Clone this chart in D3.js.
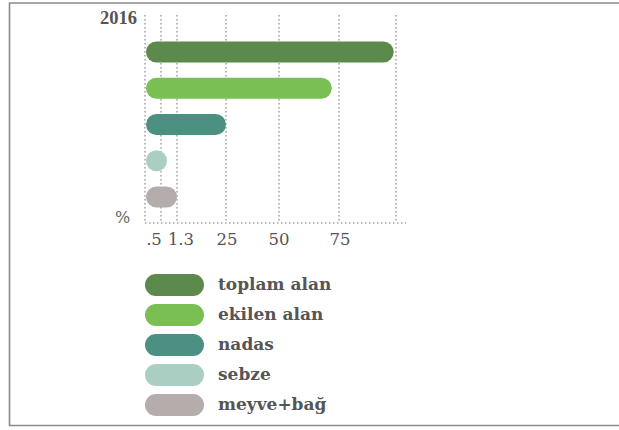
<!DOCTYPE html>
<html><head><meta charset="utf-8">
<script src="https://cdn.jsdelivr.net/npm/d3@7"></script>
<style>html,body{margin:0;padding:0;background:#fff;overflow:hidden;}svg{display:block;}</style>
</head><body>
<script>
const year = "2016";
const categories = ["toplam alan", "ekilen alan", "nadas", "sebze", "meyve+bağ"];
const values = [99, 72, 25, 0.8, 1.3];
const colors = ["#5b8a4c", "#79bf53", "#4b9081", "#aacfc2", "#b4adab"];
const tickValues = [0.5, 1.3, 25, 50, 75];
const tickLabels = [".5", "1.3", "25", "50", "75"];
const tickShift = [-7, 4, 1, 0, 1];
const gridValues = [0, 0.5, 1.3, 25, 50, 75, 100];

const W = 619, H = 430;
const svg = d3.select("body").append("svg").attr("width", W).attr("height", H);

// frame
svg.append("path").attr("d", "M 619 3 H 9.5 V 425.5 H 619")
  .attr("fill", "none").attr("stroke", "#8a8a8a").attr("stroke-width", 1.6);

// piecewise x scale as drawn in the infographic
const x = d3.scaleLinear().domain(gridValues).range([145, 161, 177, 226, 279, 339, 396]);
const y = d3.scalePoint().domain(categories).range([52, 197]);
const barH = 21;
const gridTop = 15, gridBottom = 223;

const grid = svg.append("g").attr("stroke", "#a0a0a8").attr("stroke-width", 1.5)
  .attr("stroke-dasharray", "1.5,2.5").attr("fill", "none");
grid.selectAll("line.v").data(gridValues).join("line").attr("class", "v")
  .attr("x1", d => x(d)).attr("x2", d => x(d)).attr("y1", gridTop).attr("y2", gridBottom);
grid.append("line").attr("x1", x(0)).attr("x2", 406).attr("y1", gridBottom).attr("y2", gridBottom);

// bars
svg.append("g").selectAll("rect").data(categories).join("rect")
  .attr("x", x(0) + 1)
  .attr("y", d => y(d) - barH / 2)
  .attr("width", (d, i) => Math.max(x(values[i]) - x(0) - 1, barH))
  .attr("height", barH)
  .attr("rx", barH / 2).attr("ry", barH / 2)
  .attr("fill", (d, i) => colors[i]);

// axis labels
const serif = "'DejaVu Serif', serif";
svg.append("g").selectAll("text").data(tickValues).join("text")
  .attr("x", (d, i) => x(d) + tickShift[i])
  .attr("y", 245)
  .attr("text-anchor", "middle")
  .attr("font-family", serif).attr("font-size", 16.5).attr("fill", "#555")
  .text((d, i) => tickLabels[i]);

svg.append("text").attr("x", 115).attr("y", 223).attr("font-family", serif)
  .attr("font-size", 16).attr("fill", "#666").text("%");

svg.append("text").attr("x", 100).attr("y", 24).attr("font-family", "'Liberation Serif', serif")
  .attr("font-weight", "bold").attr("font-size", 18.5).attr("fill", "#555").text(year);

// legend
const ly = d3.scalePoint().domain(categories).range([285, 405]);
const leg = svg.append("g").selectAll("g").data(categories).join("g")
  .attr("transform", d => `translate(0,${ly(d)})`);
leg.append("rect").attr("x", 145).attr("y", -11).attr("width", 59).attr("height", 22)
  .attr("rx", 11).attr("ry", 11).attr("fill", (d, i) => colors[i]);
leg.append("text").attr("x", 218).attr("y", 5).attr("font-family", serif)
  .attr("font-weight", "bold").attr("font-size", 17).attr("fill", "#555").text(d => d);
</script>
</body></html>
